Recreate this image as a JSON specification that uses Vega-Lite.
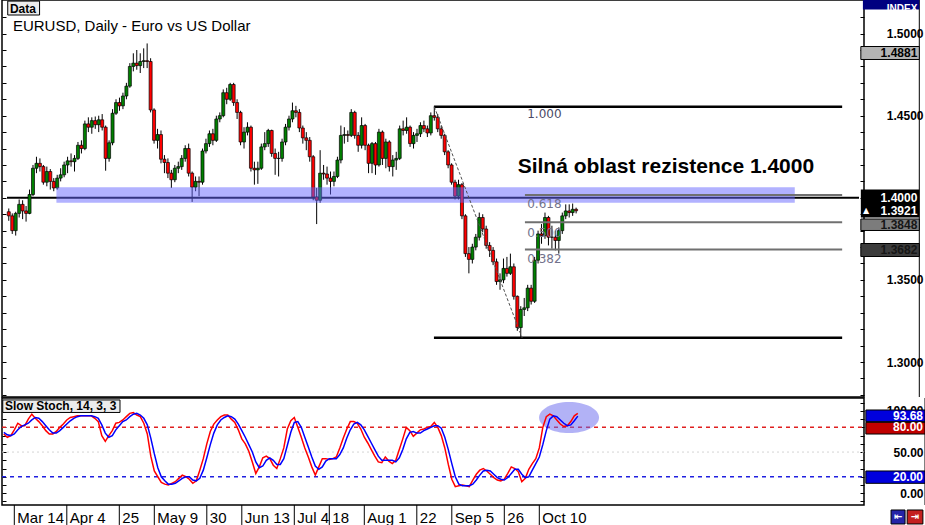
{
"$schema": "https://vega.github.io/schema/vega-lite/v6.json",
"background": "white",
"padding": {"left": 0, "right": 0, "top": -2, "bottom": 0},
"spacing": 1,
"bounds": "flush",
"config": {"view": {"stroke": "#000000", "strokeWidth": 1.5}, "axis": {"labelFont": "Liberation Sans"}},
"datasets": {
"bars": [
{"i":-3,"o":1.3915,"h":1.3935,"l":1.3860,"c":1.3890,"k":72,"d":74},
{"i":-2,"o":1.3890,"h":1.3905,"l":1.3780,"c":1.3800,"k":68,"d":71},
{"i":-1,"o":1.3800,"h":1.3915,"l":1.3770,"c":1.3905,"k":70,"d":70},
{"i":0,"o":1.3905,"h":1.3990,"l":1.3880,"c":1.3960,"k":77,"d":72},
{"i":1,"o":1.3960,"h":1.3985,"l":1.3870,"c":1.3920,"k":85,"d":77},
{"i":2,"o":1.3920,"h":1.3950,"l":1.3855,"c":1.3905,"k":82,"d":81},
{"i":3,"o":1.3905,"h":1.4050,"l":1.3900,"c":1.4020,"k":82,"d":83},
{"i":4,"o":1.4020,"h":1.4200,"l":1.4010,"c":1.4180,"k":90,"d":85},
{"i":5,"o":1.4180,"h":1.4250,"l":1.4150,"c":1.4210,"k":96,"d":89},
{"i":6,"o":1.4210,"h":1.4240,"l":1.4160,"c":1.4190,"k":91,"d":92},
{"i":7,"o":1.4190,"h":1.4200,"l":1.4080,"c":1.4095,"k":87,"d":91},
{"i":8,"o":1.4095,"h":1.4190,"l":1.4070,"c":1.4160,"k":82,"d":87},
{"i":9,"o":1.4160,"h":1.4175,"l":1.4050,"c":1.4100,"k":76,"d":82},
{"i":10,"o":1.4100,"h":1.4120,"l":1.4040,"c":1.4060,"k":72,"d":77},
{"i":11,"o":1.4060,"h":1.4140,"l":1.4050,"c":1.4120,"k":72,"d":73},
{"i":12,"o":1.4120,"h":1.4180,"l":1.4100,"c":1.4140,"k":75,"d":73},
{"i":13,"o":1.4140,"h":1.4220,"l":1.4125,"c":1.4200,"k":80,"d":76},
{"i":14,"o":1.4200,"h":1.4250,"l":1.4150,"c":1.4225,"k":84,"d":80},
{"i":15,"o":1.4225,"h":1.4270,"l":1.4190,"c":1.4220,"k":89,"d":84},
{"i":16,"o":1.4220,"h":1.4260,"l":1.4160,"c":1.4240,"k":92,"d":88},
{"i":17,"o":1.4240,"h":1.4340,"l":1.4230,"c":1.4320,"k":93,"d":91},
{"i":18,"o":1.4320,"h":1.4350,"l":1.4270,"c":1.4300,"k":94,"d":93},
{"i":19,"o":1.4300,"h":1.4470,"l":1.4290,"c":1.4450,"k":94,"d":94},
{"i":20,"o":1.4450,"h":1.4490,"l":1.4400,"c":1.4430,"k":94,"d":94},
{"i":21,"o":1.4430,"h":1.4490,"l":1.4390,"c":1.4470,"k":94,"d":94},
{"i":22,"o":1.4470,"h":1.4495,"l":1.4420,"c":1.4445,"k":94,"d":94},
{"i":23,"o":1.4445,"h":1.4500,"l":1.4400,"c":1.4475,"k":91,"d":93},
{"i":24,"o":1.4475,"h":1.4510,"l":1.4410,"c":1.4430,"k":87,"d":91},
{"i":25,"o":1.4430,"h":1.4440,"l":1.4165,"c":1.4240,"k":70,"d":83},
{"i":26,"o":1.4240,"h":1.4350,"l":1.4220,"c":1.4335,"k":63,"d":73},
{"i":27,"o":1.4335,"h":1.4540,"l":1.4320,"c":1.4515,"k":70,"d":68},
{"i":28,"o":1.4515,"h":1.4600,"l":1.4505,"c":1.4580,"k":76,"d":70},
{"i":29,"o":1.4580,"h":1.4610,"l":1.4530,"c":1.4560,"k":85,"d":77},
{"i":30,"o":1.4560,"h":1.4640,"l":1.4540,"c":1.4620,"k":86,"d":82},
{"i":31,"o":1.4620,"h":1.4700,"l":1.4600,"c":1.4680,"k":89,"d":87},
{"i":32,"o":1.4680,"h":1.4820,"l":1.4670,"c":1.4800,"k":93,"d":89},
{"i":33,"o":1.4800,"h":1.4880,"l":1.4770,"c":1.4820,"k":97,"d":93},
{"i":34,"o":1.4820,"h":1.4900,"l":1.4780,"c":1.4805,"k":98,"d":96},
{"i":35,"o":1.4805,"h":1.4880,"l":1.4760,"c":1.4830,"k":95,"d":97},
{"i":36,"o":1.4830,"h":1.4910,"l":1.4790,"c":1.4835,"k":93,"d":95},
{"i":37,"o":1.4835,"h":1.4940,"l":1.4790,"c":1.4830,"k":85,"d":91},
{"i":38,"o":1.4830,"h":1.4850,"l":1.4520,"c":1.4535,"k":72,"d":83},
{"i":39,"o":1.4535,"h":1.4545,"l":1.4330,"c":1.4350,"k":45,"d":67},
{"i":40,"o":1.4350,"h":1.4420,"l":1.4300,"c":1.4385,"k":27,"d":48},
{"i":41,"o":1.4385,"h":1.4410,"l":1.4210,"c":1.4235,"k":20,"d":31},
{"i":42,"o":1.4235,"h":1.4260,"l":1.4150,"c":1.4215,"k":13,"d":20},
{"i":43,"o":1.4215,"h":1.4240,"l":1.4120,"c":1.4150,"k":11,"d":15},
{"i":44,"o":1.4150,"h":1.4170,"l":1.4060,"c":1.4110,"k":10,"d":11},
{"i":45,"o":1.4110,"h":1.4200,"l":1.4095,"c":1.4180,"k":12,"d":11},
{"i":46,"o":1.4180,"h":1.4220,"l":1.4150,"c":1.4190,"k":14,"d":12},
{"i":47,"o":1.4190,"h":1.4260,"l":1.4170,"c":1.4240,"k":18,"d":15},
{"i":48,"o":1.4240,"h":1.4320,"l":1.4220,"c":1.4300,"k":22,"d":18},
{"i":49,"o":1.4300,"h":1.4330,"l":1.4130,"c":1.4150,"k":20,"d":20},
{"i":50,"o":1.4150,"h":1.4160,"l":1.3975,"c":1.4065,"k":17,"d":20},
{"i":51,"o":1.4065,"h":1.4130,"l":1.4040,"c":1.4100,"k":12,"d":16},
{"i":52,"o":1.4100,"h":1.4130,"l":1.4010,"c":1.4095,"k":15,"d":15},
{"i":53,"o":1.4095,"h":1.4300,"l":1.4080,"c":1.4285,"k":28,"d":18},
{"i":54,"o":1.4285,"h":1.4360,"l":1.4270,"c":1.4330,"k":42,"d":28},
{"i":55,"o":1.4330,"h":1.4410,"l":1.4310,"c":1.4390,"k":60,"d":43},
{"i":56,"o":1.4390,"h":1.4420,"l":1.4320,"c":1.4350,"k":75,"d":59},
{"i":57,"o":1.4350,"h":1.4500,"l":1.4340,"c":1.4480,"k":84,"d":73},
{"i":58,"o":1.4480,"h":1.4520,"l":1.4460,"c":1.4500,"k":89,"d":83},
{"i":59,"o":1.4500,"h":1.4660,"l":1.4490,"c":1.4640,"k":93,"d":89},
{"i":60,"o":1.4640,"h":1.4670,"l":1.4570,"c":1.4600,"k":95,"d":92},
{"i":61,"o":1.4600,"h":1.4700,"l":1.4590,"c":1.4690,"k":95,"d":94},
{"i":62,"o":1.4690,"h":1.4700,"l":1.4560,"c":1.4580,"k":90,"d":93},
{"i":63,"o":1.4580,"h":1.4600,"l":1.4480,"c":1.4520,"k":86,"d":90},
{"i":64,"o":1.4520,"h":1.4530,"l":1.4320,"c":1.4340,"k":77,"d":84},
{"i":65,"o":1.4340,"h":1.4430,"l":1.4300,"c":1.4400,"k":66,"d":76},
{"i":66,"o":1.4400,"h":1.4460,"l":1.4380,"c":1.4430,"k":60,"d":68},
{"i":67,"o":1.4430,"h":1.4440,"l":1.4160,"c":1.4180,"k":51,"d":59},
{"i":68,"o":1.4180,"h":1.4220,"l":1.4080,"c":1.4170,"k":38,"d":50},
{"i":69,"o":1.4170,"h":1.4220,"l":1.4085,"c":1.4180,"k":24,"d":38},
{"i":70,"o":1.4180,"h":1.4330,"l":1.4170,"c":1.4310,"k":32,"d":31},
{"i":71,"o":1.4310,"h":1.4400,"l":1.4290,"c":1.4330,"k":43,"d":33},
{"i":72,"o":1.4330,"h":1.4420,"l":1.4310,"c":1.4410,"k":45,"d":40},
{"i":73,"o":1.4410,"h":1.4415,"l":1.4250,"c":1.4270,"k":42,"d":43},
{"i":74,"o":1.4270,"h":1.4300,"l":1.4140,"c":1.4240,"k":34,"d":40},
{"i":75,"o":1.4240,"h":1.4280,"l":1.4130,"c":1.4240,"k":30,"d":35},
{"i":76,"o":1.4240,"h":1.4360,"l":1.4220,"c":1.4340,"k":42,"d":35},
{"i":77,"o":1.4340,"h":1.4450,"l":1.4320,"c":1.4430,"k":55,"d":42},
{"i":78,"o":1.4430,"h":1.4500,"l":1.4410,"c":1.4480,"k":78,"d":58},
{"i":79,"o":1.4480,"h":1.4580,"l":1.4460,"c":1.4530,"k":88,"d":74},
{"i":80,"o":1.4530,"h":1.4560,"l":1.4490,"c":1.4520,"k":92,"d":86},
{"i":81,"o":1.4520,"h":1.4540,"l":1.4400,"c":1.4425,"k":80,"d":87},
{"i":82,"o":1.4425,"h":1.4440,"l":1.4330,"c":1.4365,"k":68,"d":80},
{"i":83,"o":1.4365,"h":1.4400,"l":1.4290,"c":1.4350,"k":55,"d":68},
{"i":84,"o":1.4350,"h":1.4370,"l":1.4220,"c":1.4250,"k":44,"d":56},
{"i":85,"o":1.4250,"h":1.4260,"l":1.3985,"c":1.4005,"k":32,"d":44},
{"i":86,"o":1.4005,"h":1.4060,"l":1.3840,"c":1.3985,"k":22,"d":33},
{"i":87,"o":1.3985,"h":1.4290,"l":1.3970,"c":1.4150,"k":32,"d":29},
{"i":88,"o":1.4150,"h":1.4200,"l":1.4110,"c":1.4145,"k":42,"d":32},
{"i":89,"o":1.4145,"h":1.4190,"l":1.4080,"c":1.4120,"k":42,"d":39},
{"i":90,"o":1.4120,"h":1.4160,"l":1.4020,"c":1.4100,"k":41,"d":42},
{"i":91,"o":1.4100,"h":1.4160,"l":1.4070,"c":1.4130,"k":42,"d":42},
{"i":92,"o":1.4130,"h":1.4250,"l":1.4120,"c":1.4230,"k":44,"d":42},
{"i":93,"o":1.4230,"h":1.4440,"l":1.4210,"c":1.4380,"k":55,"d":47},
{"i":94,"o":1.4380,"h":1.4430,"l":1.4330,"c":1.4385,"k":67,"d":55},
{"i":95,"o":1.4385,"h":1.4410,"l":1.4340,"c":1.4380,"k":78,"d":67},
{"i":96,"o":1.4380,"h":1.4540,"l":1.4370,"c":1.4520,"k":87,"d":77},
{"i":97,"o":1.4520,"h":1.4530,"l":1.4360,"c":1.4380,"k":87,"d":84},
{"i":98,"o":1.4380,"h":1.4400,"l":1.4280,"c":1.4320,"k":85,"d":86},
{"i":99,"o":1.4320,"h":1.4490,"l":1.4300,"c":1.4440,"k":78,"d":83},
{"i":100,"o":1.4440,"h":1.4450,"l":1.4290,"c":1.4320,"k":68,"d":77},
{"i":101,"o":1.4320,"h":1.4330,"l":1.4150,"c":1.4210,"k":61,"d":69},
{"i":102,"o":1.4210,"h":1.4340,"l":1.4150,"c":1.4330,"k":53,"d":61},
{"i":103,"o":1.4330,"h":1.4340,"l":1.4140,"c":1.4200,"k":45,"d":53},
{"i":104,"o":1.4200,"h":1.4420,"l":1.4190,"c":1.4400,"k":38,"d":45},
{"i":105,"o":1.4400,"h":1.4410,"l":1.4200,"c":1.4240,"k":37,"d":40},
{"i":106,"o":1.4240,"h":1.4360,"l":1.4180,"c":1.4340,"k":44,"d":40},
{"i":107,"o":1.4340,"h":1.4350,"l":1.4160,"c":1.4190,"k":39,"d":40},
{"i":108,"o":1.4190,"h":1.4260,"l":1.4130,"c":1.4230,"k":36,"d":40},
{"i":109,"o":1.4230,"h":1.4280,"l":1.4170,"c":1.4240,"k":40,"d":38},
{"i":110,"o":1.4240,"h":1.4440,"l":1.4230,"c":1.4420,"k":53,"d":43},
{"i":111,"o":1.4420,"h":1.4470,"l":1.4380,"c":1.4410,"k":66,"d":53},
{"i":112,"o":1.4410,"h":1.4490,"l":1.4390,"c":1.4430,"k":80,"d":66},
{"i":113,"o":1.4430,"h":1.4440,"l":1.4310,"c":1.4330,"k":76,"d":74},
{"i":114,"o":1.4330,"h":1.4400,"l":1.4300,"c":1.4380,"k":69,"d":75},
{"i":115,"o":1.4380,"h":1.4420,"l":1.4340,"c":1.4390,"k":73,"d":73},
{"i":116,"o":1.4390,"h":1.4460,"l":1.4370,"c":1.4440,"k":77,"d":73},
{"i":117,"o":1.4440,"h":1.4470,"l":1.4400,"c":1.4420,"k":78,"d":76},
{"i":118,"o":1.4420,"h":1.4440,"l":1.4370,"c":1.4395,"k":80,"d":78},
{"i":119,"o":1.4395,"h":1.4520,"l":1.4380,"c":1.4500,"k":81,"d":80},
{"i":120,"o":1.4500,"h":1.4555,"l":1.4470,"c":1.4490,"k":86,"d":82},
{"i":121,"o":1.4490,"h":1.4510,"l":1.4400,"c":1.4420,"k":80,"d":82},
{"i":122,"o":1.4420,"h":1.4440,"l":1.4360,"c":1.4380,"k":70,"d":79},
{"i":123,"o":1.4380,"h":1.4390,"l":1.4260,"c":1.4280,"k":55,"d":68},
{"i":124,"o":1.4280,"h":1.4290,"l":1.4180,"c":1.4200,"k":35,"d":53},
{"i":125,"o":1.4200,"h":1.4210,"l":1.4080,"c":1.4095,"k":17,"d":36},
{"i":126,"o":1.4095,"h":1.4110,"l":1.3990,"c":1.4010,"k":8,"d":20},
{"i":127,"o":1.4010,"h":1.4110,"l":1.3990,"c":1.4080,"k":9,"d":11},
{"i":128,"o":1.4080,"h":1.4090,"l":1.3870,"c":1.3890,"k":10,"d":9},
{"i":129,"o":1.3890,"h":1.3900,"l":1.3640,"c":1.3660,"k":9,"d":9},
{"i":130,"o":1.3660,"h":1.3700,"l":1.3540,"c":1.3625,"k":8,"d":9},
{"i":131,"o":1.3625,"h":1.3720,"l":1.3600,"c":1.3700,"k":16,"d":11},
{"i":132,"o":1.3700,"h":1.3780,"l":1.3680,"c":1.3760,"k":23,"d":16},
{"i":133,"o":1.3760,"h":1.3910,"l":1.3740,"c":1.3880,"k":28,"d":22},
{"i":134,"o":1.3880,"h":1.3900,"l":1.3790,"c":1.3810,"k":30,"d":27},
{"i":135,"o":1.3810,"h":1.3830,"l":1.3690,"c":1.3710,"k":27,"d":28},
{"i":136,"o":1.3710,"h":1.3730,"l":1.3640,"c":1.3680,"k":23,"d":27},
{"i":137,"o":1.3680,"h":1.3700,"l":1.3590,"c":1.3610,"k":19,"d":23},
{"i":138,"o":1.3610,"h":1.3630,"l":1.3470,"c":1.3490,"k":16,"d":19},
{"i":139,"o":1.3490,"h":1.3540,"l":1.3440,"c":1.3500,"k":15,"d":17},
{"i":140,"o":1.3500,"h":1.3630,"l":1.3480,"c":1.3570,"k":17,"d":16},
{"i":141,"o":1.3570,"h":1.3640,"l":1.3520,"c":1.3540,"k":24,"d":19},
{"i":142,"o":1.3540,"h":1.3660,"l":1.3530,"c":1.3580,"k":32,"d":24},
{"i":143,"o":1.3580,"h":1.3600,"l":1.3380,"c":1.3400,"k":30,"d":29},
{"i":144,"o":1.3400,"h":1.3405,"l":1.3190,"c":1.3210,"k":26,"d":29},
{"i":145,"o":1.3210,"h":1.3340,"l":1.3147,"c":1.3320,"k":14,"d":23},
{"i":146,"o":1.3320,"h":1.3390,"l":1.3280,"c":1.3330,"k":18,"d":19},
{"i":147,"o":1.3330,"h":1.3470,"l":1.3310,"c":1.3450,"k":29,"d":20},
{"i":148,"o":1.3450,"h":1.3470,"l":1.3350,"c":1.3370,"k":36,"d":28},
{"i":149,"o":1.3370,"h":1.3640,"l":1.3360,"c":1.3620,"k":42,"d":36},
{"i":150,"o":1.3620,"h":1.3800,"l":1.3600,"c":1.3780,"k":55,"d":44},
{"i":151,"o":1.3780,"h":1.3840,"l":1.3720,"c":1.3770,"k":80,"d":59},
{"i":152,"o":1.3770,"h":1.3910,"l":1.3750,"c":1.3880,"k":93,"d":76},
{"i":153,"o":1.3880,"h":1.3890,"l":1.3710,"c":1.3760,"k":96,"d":90},
{"i":154,"o":1.3760,"h":1.3830,"l":1.3690,"c":1.3760,"k":94,"d":94},
{"i":155,"o":1.3760,"h":1.3800,"l":1.3680,"c":1.3740,"k":89,"d":93},
{"i":156,"o":1.3740,"h":1.3820,"l":1.3660,"c":1.3800,"k":84,"d":89},
{"i":157,"o":1.3800,"h":1.3910,"l":1.3780,"c":1.3890,"k":81,"d":85},
{"i":158,"o":1.3890,"h":1.3960,"l":1.3870,"c":1.3920,"k":82,"d":82},
{"i":159,"o":1.3920,"h":1.3960,"l":1.3880,"c":1.3910,"k":87,"d":83},
{"i":160,"o":1.3910,"h":1.3965,"l":1.3890,"c":1.3930,"k":94,"d":88},
{"i":161,"o":1.3930,"h":1.3940,"l":1.3905,"c":1.3921,"k":97,"d":93.68}
],
"dates": [
{"x": 0, "t": "Mar 14"}, {"x": 15, "t": "Apr 4"}, {"x": 30, "t": "25"}, {"x": 40, "t": "May 9"},
{"x": 55, "t": "30"}, {"x": 65, "t": "Jun 13"}, {"x": 80, "t": "Jul 4"}, {"x": 90, "t": "18"},
{"x": 100, "t": "Aug 1"}, {"x": 115, "t": "22"}, {"x": 125, "t": "Sep 5"}, {"x": 140, "t": "26"}, {"x": 150, "t": "Oct 10"}
]
},
"vconcat": [
{
"width": 862, "height": 397,
"resolve": {"axis": {"y": "independent"}},
"layer": [
{"data": {"values": [{"x": -3.514, "x2": 242.77, "y": 1.4}]},
 "mark": {"type": "rule", "color": "#000000", "strokeWidth": 2},
 "encoding": {
  "x": {"field": "x", "type": "quantitative", "scale": {"domain": [-3.514, 242.77], "nice": false, "zero": false}, "axis": null},
  "x2": {"field": "x2"},
  "y": {"field": "y", "type": "quantitative", "scale": {"domain": [1.27869, 1.52046], "nice": false, "zero": false}, "axis": null}}},
{"data": {"name": "bars"},
 "mark": {"type": "rule", "color": "#000000", "strokeWidth": 1},
 "encoding": {
  "x": {"field": "i", "type": "quantitative", "axis": null},
  "y": {"field": "l", "type": "quantitative", "axis": {"orient": "right", "title": null, "domain": false, "grid": false,
    "values": [1.28,1.29,1.3,1.31,1.32,1.33,1.34,1.35,1.36,1.37,1.38,1.39,1.4,1.41,1.42,1.43,1.44,1.45,1.46,1.47,1.48,1.49,1.5,1.51],
    "labelExpr": "(round(datum.value*100) % 5 === 0 && round(datum.value*100) !== 140) ? format(datum.value, '.4f') : ''",
    "tickSize": -4, "tickColor": "#000000", "labelPadding": 63, "labelAlign": "right", "labelBaseline": "middle",
    "labelFont": "Liberation Sans", "labelFontWeight": "bold", "labelFontSize": 12, "labelColor": "#000000",
    "labelFlush": false, "labelOverlap": false, "labelBound": false}},
  "y2": {"field": "h"}}},
{"data": {"name": "bars"},
 "mark": {"type": "bar", "size": 3, "stroke": "#000000", "strokeWidth": 0.7},
 "encoding": {
  "x": {"field": "i", "type": "quantitative", "axis": null},
  "y": {"field": "o", "type": "quantitative", "axis": {"orient": "left", "title": null, "domain": false, "grid": false, "labels": false,
    "values": [1.28,1.29,1.3,1.31,1.32,1.33,1.34,1.35,1.36,1.37,1.38,1.39,1.4,1.41,1.42,1.43,1.44,1.45,1.46,1.47,1.48,1.49,1.5,1.51],
    "tickSize": -4, "tickColor": "#000000"}},
  "y2": {"field": "c"},
  "color": {"condition": {"test": "datum.c < datum.o", "value": "#ff0000"}, "value": "#008000"}}},
{"data": {"values": [{"x": 10.77, "x2": 224.2, "y": 1.39702, "y2": 1.40639}]},
 "mark": {"type": "rect", "color": "#6666ff", "opacity": 0.5},
 "encoding": {
  "x": {"field": "x", "type": "quantitative", "axis": null}, "x2": {"field": "x2"},
  "y": {"field": "y", "type": "quantitative", "axis": null}, "y2": {"field": "y2"}}},
{"data": {"values": [{"x": 146.2, "x2": 237.9, "y": 1.4017}, {"x": 146.2, "x2": 237.9, "y": 1.3851}, {"x": 146.2, "x2": 237.9, "y": 1.3685}]},
 "mark": {"type": "rule", "color": "#707070", "strokeWidth": 2},
 "encoding": {
  "x": {"field": "x", "type": "quantitative", "axis": null}, "x2": {"field": "x2"},
  "y": {"field": "y", "type": "quantitative", "axis": null}}},
{"data": {"values": [{"x": 119.9, "x2": 237.9, "y": 1.4555}, {"x": 119.9, "x2": 237.9, "y": 1.3147}]},
 "mark": {"type": "rule", "color": "#000000", "strokeWidth": 2.5},
 "encoding": {
  "x": {"field": "x", "type": "quantitative", "axis": null}, "x2": {"field": "x2"},
  "y": {"field": "y", "type": "quantitative", "axis": null}}},
{"data": {"values": [{"x": 120, "y": 1.4555}, {"x": 145.4, "y": 1.3147}]},
 "mark": {"type": "line", "color": "#505050", "strokeWidth": 1, "strokeDash": [3, 2]},
 "encoding": {
  "x": {"field": "x", "type": "quantitative", "axis": null},
  "y": {"field": "y", "type": "quantitative", "axis": null}}},
{"data": {"values": [{"x": 146.86, "y": 1.44838, "t": "1.000"}]},
 "mark": {"type": "text", "align": "left", "baseline": "alphabetic", "font": "DejaVu Sans", "fontSize": 12, "color": "#4a4a66"},
 "encoding": {
  "x": {"field": "x", "type": "quantitative", "axis": null},
  "y": {"field": "y", "type": "quantitative", "axis": null}, "text": {"field": "t"}}},
{"data": {"values": [{"x": 146.86, "y": 1.39379, "t": "0.618"}, {"x": 146.86, "y": 1.37613, "t": "0.500"}, {"x": 146.86, "y": 1.36029, "t": "0.382"}]},
 "mark": {"type": "text", "align": "left", "baseline": "alphabetic", "font": "DejaVu Sans", "fontSize": 12, "color": "#72728c"},
 "encoding": {
  "x": {"field": "x", "type": "quantitative", "axis": null},
  "y": {"field": "y", "type": "quantitative", "axis": null}, "text": {"field": "t"}}},
{"data": {"values": [{"x": 144.1, "y": 1.4151, "t": "Silná oblast rezistence 1.4000"}]},
 "mark": {"type": "text", "align": "left", "baseline": "alphabetic", "font": "Liberation Sans", "fontWeight": "bold", "fontSize": 21, "color": "#000000"},
 "encoding": {
  "x": {"field": "x", "type": "quantitative", "axis": null},
  "y": {"field": "y", "type": "quantitative", "axis": null}, "text": {"field": "t"}}},
{"data": {"values": [{"x": -1.8, "y": 1.50158, "t": "EURUSD, Daily - Euro vs US Dollar"}]},
 "mark": {"type": "text", "align": "left", "baseline": "alphabetic", "font": "Liberation Sans", "fontSize": 15, "color": "#000000"},
 "encoding": {
  "x": {"field": "x", "type": "quantitative", "axis": null},
  "y": {"field": "y", "type": "quantitative", "axis": null}, "text": {"field": "t"}}},
{"data": {"values": [{"x": -3.3, "x2": 5.9, "y": 1.51132, "y2": 1.5198}]},
 "mark": {"type": "rect", "color": "#ececec", "stroke": "#000000", "strokeWidth": 1, "clip": false},
 "encoding": {
  "x": {"field": "x", "type": "quantitative", "axis": null}, "x2": {"field": "x2"},
  "y": {"field": "y", "type": "quantitative", "axis": null}, "y2": {"field": "y2"}}},
{"data": {"values": [{"x": -2.66, "y": 1.51270, "t": "Data"}]},
 "mark": {"type": "text", "align": "left", "baseline": "alphabetic", "font": "Liberation Sans", "fontWeight": "bold", "fontSize": 12, "color": "#000000"},
 "encoding": {
  "x": {"field": "x", "type": "quantitative", "axis": null},
  "y": {"field": "y", "type": "quantitative", "axis": null}, "text": {"field": "t"}}},
{"data": {"values": [{"x": 260.2, "y": 1.27869, "y2": 1.52046}]},
 "mark": {"type": "rule", "color": "#000000", "strokeWidth": 1, "clip": false},
 "encoding": {
  "x": {"field": "x", "type": "quantitative", "axis": null},
  "y": {"field": "y", "type": "quantitative", "axis": null}, "y2": {"field": "y2"}}},
{"data": {"values": [{"x": 243.9, "x2": 260.2, "y": 1.51468, "y2": 1.52046}]},
 "mark": {"type": "rect", "color": "#000080", "clip": false},
 "encoding": {
  "x": {"field": "x", "type": "quantitative", "axis": null}, "x2": {"field": "x2"},
  "y": {"field": "y", "type": "quantitative", "axis": null}, "y2": {"field": "y2"}}},
{"data": {"values": [{"x": 243.3, "x2": 260.2, "y": 1.48423, "y2": 1.49214}]},
 "mark": {"type": "rect", "color": "#b4b4b4", "stroke": "#000000", "strokeWidth": 1, "clip": false},
 "encoding": {
  "x": {"field": "x", "type": "quantitative", "axis": null}, "x2": {"field": "x2"},
  "y": {"field": "y", "type": "quantitative", "axis": null}, "y2": {"field": "y2"}}},
{"data": {"values": [{"x": 243.3, "x2": 260.2, "y": 1.38800, "y2": 1.40505}]},
 "mark": {"type": "rect", "color": "#000000", "clip": false},
 "encoding": {
  "x": {"field": "x", "type": "quantitative", "axis": null}, "x2": {"field": "x2"},
  "y": {"field": "y", "type": "quantitative", "axis": null}, "y2": {"field": "y2"}}},
{"data": {"values": [{"x": 243.3, "x2": 260.2, "y": 1.38009, "y2": 1.38709}]},
 "mark": {"type": "rect", "color": "#7c7c7c", "stroke": "#000000", "strokeWidth": 1, "clip": false},
 "encoding": {
  "x": {"field": "x", "type": "quantitative", "axis": null}, "x2": {"field": "x2"},
  "y": {"field": "y", "type": "quantitative", "axis": null}, "y2": {"field": "y2"}}},
{"data": {"values": [{"x": 243.3, "x2": 260.2, "y": 1.36425, "y2": 1.37217}]},
 "mark": {"type": "rect", "color": "#3c3c3c", "stroke": "#000000", "strokeWidth": 1, "clip": false},
 "encoding": {
  "x": {"field": "x", "type": "quantitative", "axis": null}, "x2": {"field": "x2"},
  "y": {"field": "y", "type": "quantitative", "axis": null}, "y2": {"field": "y2"}}},
{"data": {"values": [{"x": 259.63, "y": 1.51500, "t": "INDEX"}]},
 "mark": {"type": "text", "align": "right", "baseline": "middle", "font": "Liberation Sans", "fontWeight": "bold", "fontSize": 10, "color": "#ffffff", "clip": false},
 "encoding": {
  "x": {"field": "x", "type": "quantitative", "axis": null},
  "y": {"field": "y", "type": "quantitative", "axis": null}, "text": {"field": "t"}}},
{"data": {"values": [{"x": 259.63, "y": 1.39988, "t": "1.4000"}, {"x": 259.63, "y": 1.39196, "t": "1.3921"}]},
 "mark": {"type": "text", "align": "right", "baseline": "middle", "font": "Liberation Sans", "fontWeight": "bold", "fontSize": 12, "color": "#ffffff", "clip": false},
 "encoding": {
  "x": {"field": "x", "type": "quantitative", "axis": null},
  "y": {"field": "y", "type": "quantitative", "axis": null}, "text": {"field": "t"}}},
{"data": {"values": [{"x": 259.63, "y": 1.4881, "t": "1.4881"}]},
 "mark": {"type": "text", "align": "right", "baseline": "middle", "font": "Liberation Sans", "fontWeight": "bold", "fontSize": 12, "color": "#000000", "clip": false},
 "encoding": {
  "x": {"field": "x", "type": "quantitative", "axis": null},
  "y": {"field": "y", "type": "quantitative", "axis": null}, "text": {"field": "t"}}},
{"data": {"values": [{"x": 259.63, "y": 1.38343, "t": "1.3848"}, {"x": 259.63, "y": 1.36821, "t": "1.3682"}]},
 "mark": {"type": "text", "align": "right", "baseline": "middle", "font": "Liberation Sans", "fontWeight": "bold", "fontSize": 12, "color": "#161616", "clip": false},
 "encoding": {
  "x": {"field": "x", "type": "quantitative", "axis": null},
  "y": {"field": "y", "type": "quantitative", "axis": null}, "text": {"field": "t"}}},
{"data": {"values": [{"x": 244.8, "y": 1.39196, "t": "▲"}]},
 "mark": {"type": "text", "align": "center", "baseline": "middle", "font": "DejaVu Sans", "fontSize": 8, "color": "#ffffff", "clip": false},
 "encoding": {
  "x": {"field": "x", "type": "quantitative", "axis": null},
  "y": {"field": "y", "type": "quantitative", "axis": null}, "text": {"field": "t"}}}
]
},
{
"width": 862, "height": 107,
"resolve": {"axis": {"y": "independent"}},
"layer": [
{"data": {"values": [{"x": -3.514, "x2": 242.77, "y": 50}]},
 "mark": {"type": "rule", "color": "#d4d4d4", "strokeWidth": 1, "strokeDash": [2, 3]},
 "encoding": {
  "x": {"field": "x", "type": "quantitative", "scale": {"domain": [-3.514, 242.77], "nice": false, "zero": false}, "axis": null},
  "x2": {"field": "x2"},
  "y": {"field": "y", "type": "quantitative", "scale": {"domain": [-14.34, 115.67], "nice": false, "zero": false}, "axis": null}}},
{"data": {"values": [{"x": -3.514, "x2": 242.77, "y": 80}]},
 "mark": {"type": "rule", "color": "#e02020", "strokeWidth": 1.5, "strokeDash": [4, 4]},
 "encoding": {
  "x": {"field": "x", "type": "quantitative", "axis": null}, "x2": {"field": "x2"},
  "y": {"field": "y", "type": "quantitative", "axis": null}}},
{"data": {"values": [{"x": -3.514, "x2": 242.77, "y": 20}]},
 "mark": {"type": "rule", "color": "#2020e0", "strokeWidth": 1.5, "strokeDash": [4, 4]},
 "encoding": {
  "x": {"field": "x", "type": "quantitative", "axis": null}, "x2": {"field": "x2"},
  "y": {"field": "y", "type": "quantitative", "axis": null}}},
{"data": {"values": [{"x": 158.5, "y": 92}]},
 "mark": {"type": "point", "filled": true, "shape": "M-1,0A1,0.52 0 1,1 1,0A1,0.52 0 1,1 -1,0Z", "size": 3600, "color": "#6666ee", "opacity": 0.5},
 "encoding": {
  "x": {"field": "x", "type": "quantitative", "axis": null},
  "y": {"field": "y", "type": "quantitative", "axis": null}}},
{"data": {"name": "bars"},
 "mark": {"type": "line", "color": "#ff0000", "strokeWidth": 1.5},
 "encoding": {
  "x": {"field": "i", "type": "quantitative", "axis": null},
  "y": {"field": "k", "type": "quantitative", "axis": {"orient": "right", "title": null, "domain": false, "grid": false,
    "values": [-10, 0, 10, 20, 30, 40, 50, 60, 70, 80, 90, 100, 110],
    "labelExpr": "(datum.value === 0 || datum.value === 50 || datum.value === 100) ? format(datum.value, '.2f') : ''",
    "tickSize": -4, "tickColor": "#000000", "labelPadding": 63, "labelAlign": "right", "labelBaseline": "middle",
    "labelFont": "Liberation Sans", "labelFontWeight": "bold", "labelFontSize": 12, "labelColor": "#000000",
    "labelFlush": false, "labelOverlap": false, "labelBound": false}}}},
{"data": {"name": "bars"},
 "mark": {"type": "line", "color": "#0000ff", "strokeWidth": 1.5},
 "encoding": {
  "x": {"field": "i", "type": "quantitative", "axis": null},
  "y": {"field": "d", "type": "quantitative", "axis": {"orient": "left", "title": null, "domain": false, "grid": false, "labels": false,
    "values": [-10, 0, 10, 20, 30, 40, 50, 60, 70, 80, 90, 100, 110], "tickSize": -4, "tickColor": "#000000"}}}},
{"data": {"name": "dates"},
 "mark": {"type": "rule", "color": "#000000", "strokeWidth": 1, "clip": false},
 "encoding": {
  "x": {"field": "x", "type": "quantitative", "axis": null},
  "y": {"datum": -14.34, "type": "quantitative", "axis": null},
  "y2": {"datum": -38.6}}},
{"data": {"name": "dates"},
 "mark": {"type": "text", "align": "left", "baseline": "alphabetic", "dx": 3, "font": "Liberation Sans", "fontSize": 15, "color": "#000000", "clip": false},
 "encoding": {
  "x": {"field": "x", "type": "quantitative", "axis": null},
  "y": {"datum": -36.6, "type": "quantitative", "axis": null},
  "text": {"field": "t"}}},
{"data": {"values": [{"x": -3.3, "x2": 30.2, "y": 98.1, "y2": 113.3}]},
 "mark": {"type": "rect", "color": "#ececec", "stroke": "#000000", "strokeWidth": 1, "clip": false},
 "encoding": {
  "x": {"field": "x", "type": "quantitative", "axis": null}, "x2": {"field": "x2"},
  "y": {"field": "y", "type": "quantitative", "axis": null}, "y2": {"field": "y2"}}},
{"data": {"values": [{"x": -2.66, "y": 101, "t": "Slow Stoch, 14, 3, 3"}]},
 "mark": {"type": "text", "align": "left", "baseline": "alphabetic", "font": "Liberation Sans", "fontWeight": "bold", "fontSize": 12, "color": "#000000"},
 "encoding": {
  "x": {"field": "x", "type": "quantitative", "axis": null},
  "y": {"field": "y", "type": "quantitative", "axis": null}, "text": {"field": "t"}}},
{"data": {"values": [{"x": 260.2, "y": -14.34, "y2": 115.67}]},
 "mark": {"type": "rule", "color": "#000000", "strokeWidth": 1, "clip": false},
 "encoding": {
  "x": {"field": "x", "type": "quantitative", "axis": null},
  "y": {"field": "y", "type": "quantitative", "axis": null}, "y2": {"field": "y2"}}},
{"data": {"values": [{"x": 243.3, "x2": 260.2, "y": 86.9, "y2": 101.1}, {"x": 243.3, "x2": 260.2, "y": 12, "y2": 27}]},
 "mark": {"type": "rect", "color": "#0000dd", "stroke": "#000000", "strokeWidth": 1, "clip": false},
 "encoding": {
  "x": {"field": "x", "type": "quantitative", "axis": null}, "x2": {"field": "x2"},
  "y": {"field": "y", "type": "quantitative", "axis": null}, "y2": {"field": "y2"}}},
{"data": {"values": [{"x": 243.3, "x2": 260.2, "y": 71.9, "y2": 86.1}]},
 "mark": {"type": "rect", "color": "#c00000", "stroke": "#000000", "strokeWidth": 1, "clip": false},
 "encoding": {
  "x": {"field": "x", "type": "quantitative", "axis": null}, "x2": {"field": "x2"},
  "y": {"field": "y", "type": "quantitative", "axis": null}, "y2": {"field": "y2"}}},
{"data": {"values": [{"x": 250.5, "x2": 254.5, "y": -37.4, "y2": -20.4}]},
 "mark": {"type": "rect", "color": "#2424a8", "stroke": "#000000", "strokeWidth": 1, "clip": false},
 "encoding": {
  "x": {"field": "x", "type": "quantitative", "axis": null}, "x2": {"field": "x2"},
  "y": {"field": "y", "type": "quantitative", "axis": null}, "y2": {"field": "y2"}}},
{"data": {"values": [{"x": 255.1, "x2": 259.6, "y": -37.4, "y2": -20.4}]},
 "mark": {"type": "rect", "color": "#c42020", "stroke": "#000000", "strokeWidth": 1, "clip": false},
 "encoding": {
  "x": {"field": "x", "type": "quantitative", "axis": null}, "x2": {"field": "x2"},
  "y": {"field": "y", "type": "quantitative", "axis": null}, "y2": {"field": "y2"}}},
{"data": {"values": [
  {"x": 259.63, "y": 93.68, "t": "93.68"},
  {"x": 259.63, "y": 80, "t": "80.00"},
  {"x": 259.63, "y": 20, "t": "20.00"}]},
 "mark": {"type": "text", "align": "right", "baseline": "middle", "font": "Liberation Sans", "fontWeight": "bold", "fontSize": 12, "color": "#ffffff", "clip": false},
 "encoding": {
  "x": {"field": "x", "type": "quantitative", "axis": null},
  "y": {"field": "y", "type": "quantitative", "axis": null}, "text": {"field": "t"}}},
{"data": {"values": [
  {"x": 252.5, "y": -29, "t": "⇤"},
  {"x": 257.35, "y": -29, "t": "⇥"}]},
 "mark": {"type": "text", "align": "center", "baseline": "middle", "font": "DejaVu Sans", "fontWeight": "bold", "fontSize": 10, "color": "#ffffff", "clip": false},
 "encoding": {
  "x": {"field": "x", "type": "quantitative", "axis": null},
  "y": {"field": "y", "type": "quantitative", "axis": null}, "text": {"field": "t"}}}
]
}
]
}
